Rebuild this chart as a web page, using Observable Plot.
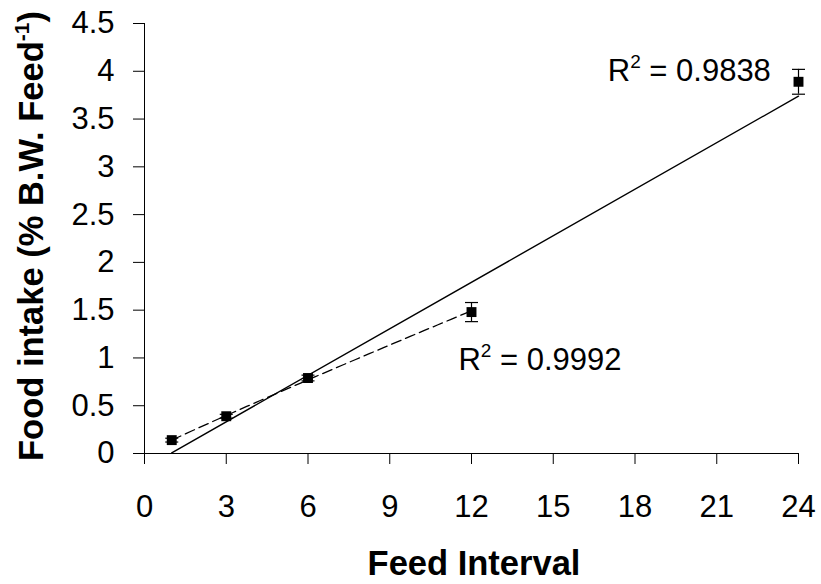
<!DOCTYPE html>
<html>
<head>
<meta charset="utf-8">
<script src="https://cdn.jsdelivr.net/npm/d3@7"></script>
<script src="https://cdn.jsdelivr.net/npm/@observablehq/plot@0.6"></script>
<style>
  html, body { margin: 0; padding: 0; background: #fff; }
</style>
</head>
<body>
<div id="chart"></div>
<script>
// ---- data ----
const feedInterval = [1, 3, 6, 12, 24];
const foodIntake   = [0.14, 0.39, 0.79, 1.48, 3.89];
const errorBar     = [0.02, 0.02, 0.03, 0.10, 0.13];
const xTicks = [0, 3, 6, 9, 12, 15, 18, 21, 24];
const yTicks = [0, 0.5, 1, 1.5, 2, 2.5, 3, 3.5, 4, 4.5];
const r2AllValue   = "0.9838";
const r2ShortValue = "0.9992";

const data = feedInterval.map((x, i) => ({x, y: foodIntake[i], lo: foodIntake[i] - errorBar[i], hi: foodIntake[i] + errorBar[i]}));
const shortData = data.filter(d => d.x <= 12);

// power trendline (y = a x^b) for the first four points, like the spreadsheet trendline
const lx = shortData.map(d => Math.log(d.x)), ly = shortData.map(d => Math.log(d.y));
const mx = d3.mean(lx), my = d3.mean(ly);
const b = d3.sum(lx.map((v, i) => (v - mx) * (ly[i] - my))) / d3.sum(lx.map(v => (v - mx) ** 2));
const a = Math.exp(my - b * mx);
const powerCurve = d3.range(1, 12.001, 0.25).map(x => ({x, y: a * Math.pow(x, b)}));

// horizontal cap symbol for error bars
const capSymbol = {
  draw(ctx, size) {
    const h = Math.sqrt(size / Math.PI);
    ctx.moveTo(-h, 0);
    ctx.lineTo(h, 0);
  }
};

const W = 821, H = 584;
const FONT = "'Liberation Sans', Arial, sans-serif";
const plot = Plot.plot({
  width: W,
  height: H,
  marginLeft: 144,
  marginRight: 23,
  marginTop: 23,
  marginBottom: 131,
  style: {fontFamily: FONT, fontSize: "31px", color: "#000", background: "#fff"},
  x: {domain: [0, 24], ticks: xTicks, tickSize: 11, tickPadding: 30, label: null, tickFormat: d => String(d)},
  y: {domain: [0, 4.5], ticks: yTicks, tickSize: 11, tickPadding: 19, label: null, tickFormat: d => String(d)},
  marks: [
    Plot.ruleY([0], {x1: 0, x2: 24, stroke: "#000", strokeWidth: 1}),
    Plot.ruleX([0], {y1: 0, y2: 4.5, stroke: "#000", strokeWidth: 1}),
    Plot.linearRegressionY(data, {x: "x", y: "y", ci: 0, stroke: "#000", strokeWidth: 1.4}),
    Plot.line(powerCurve, {x: "x", y: "y", stroke: "#000", strokeWidth: 1.3, strokeDasharray: "10,5", curve: "linear"}),
    Plot.ruleX(data, {x: "x", y1: "lo", y2: "hi", stroke: "#000", strokeWidth: 1.2}),
    Plot.dot(data, {x: "x", y: "lo", symbol: capSymbol, r: 6.5, stroke: "#000", strokeWidth: 1.2, fill: "none"}),
    Plot.dot(data, {x: "x", y: "hi", symbol: capSymbol, r: 6.5, stroke: "#000", strokeWidth: 1.2, fill: "none"}),
    Plot.dot(data, {x: "x", y: "y", symbol: "square", r: 5.6, fill: "#000", stroke: "none"}),
    Plot.text([r2AllValue], {x: 17.0, y: 4.0, text: d => "R2 = " + d, textAnchor: "start", lineAnchor: "middle", fontSize: 31, fill: "#000", className: "r2label"}),
    Plot.text([r2ShortValue], {x: 11.52, y: 0.98, text: d => "R2 = " + d, textAnchor: "start", lineAnchor: "middle", fontSize: 31, fill: "#000", className: "r2label"})
  ]
});

const svg = d3.select(plot);

// superscript the "2" in the R² labels
svg.selectAll(".r2label text").each(function() {
  const t = d3.select(this);
  const full = t.text();
  const rest = full.slice(2);
  t.text(null);
  t.append("tspan").text("R");
  t.append("tspan").attr("font-size", 19).attr("dy", -13).text("2");
  t.append("tspan").attr("dy", 13).text(rest);
});

// axis titles
svg.append("text")
  .attr("x", 474)
  .attr("y", 575)
  .attr("text-anchor", "middle")
  .attr("font-family", FONT)
  .attr("font-weight", "bold")
  .attr("font-size", 34.5)
  .attr("fill", "#000")
  .text("Feed Interval");

const yt = svg.append("text")
  .attr("transform", `translate(43,236) rotate(-90)`)
  .attr("text-anchor", "middle")
  .attr("font-family", FONT)
  .attr("font-weight", "bold")
  .attr("font-size", 34.5)
  .attr("fill", "#000");
yt.append("tspan").text("Food intake (% B.W. Feed");
yt.append("tspan").attr("font-size", 21).attr("dy", -14).text("-1");
yt.append("tspan").attr("dy", 14).text(")");

document.getElementById("chart").appendChild(plot);
</script>
</body>
</html>
